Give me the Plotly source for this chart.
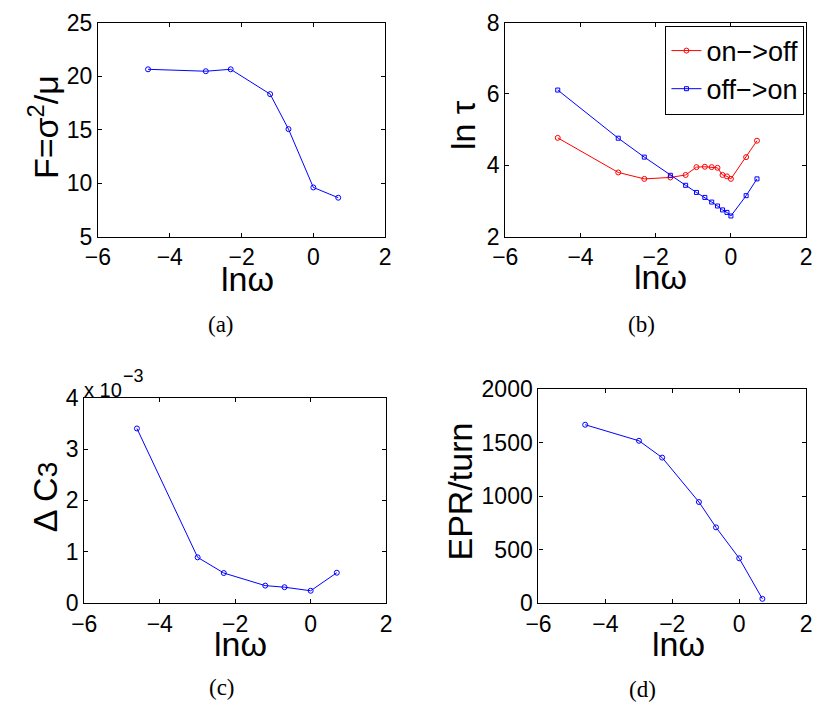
import plotly.graph_objects as go

# ---------------- data ----------------
lnw7 = [-4.605, -2.996, -2.303, -1.204, -0.693, 0.0, 0.693]
fano = [20.64, 20.46, 20.64, 18.32, 15.05, 9.60, 8.64]

lnw14 = [-4.605, -2.996, -2.303, -1.609, -1.204, -0.916, -0.693, -0.511,
         -0.357, -0.223, -0.105, 0.0, 0.405, 0.693]
tau_on_off = [4.77, 3.80, 3.62, 3.66, 3.73, 3.95, 3.96, 3.95, 3.93, 3.73,
              3.69, 3.62, 4.23, 4.69]
tau_off_on = [6.11, 4.76, 4.23, 3.72, 3.44, 3.24, 3.10, 2.97, 2.86, 2.75,
              2.68, 2.58, 3.15, 3.62]

dc3 = [3.40e-3, 0.89e-3, 0.584e-3, 0.339e-3, 0.308e-3, 0.239e-3, 0.59e-3]
epr = [1666, 1516, 1359, 944, 707, 418, 39]

x_ticks = [-6, -4, -2, 0, 2]
ya_ticks = [5, 10, 15, 20, 25]
yb_ticks = [2, 4, 6, 8]
yc_ticks = [0, 1e-3, 2e-3, 3e-3, 4e-3]
yc_text = ["0", "1", "2", "3", "4"]
yd_ticks = [0, 500, 1000, 1500, 2000]

W, H = 817, 724
BLUE = "#0000ff"
RED = "#ff0000"
SANS = "Liberation Sans, Arial, sans-serif"
SERIF = "Liberation Serif, DejaVu Serif, serif"

def px(x):
    return x / W

def py(y):
    return 1 - y / H

fig = go.Figure()

fig.add_trace(go.Scatter(x=lnw7, y=fano, mode="lines+markers", xaxis="x", yaxis="y",
                         line=dict(color=BLUE, width=1),
                         marker=dict(symbol="circle-open", size=5, color=BLUE, line=dict(width=1)),
                         showlegend=False))
fig.add_trace(go.Scatter(x=lnw14, y=tau_on_off, mode="lines+markers", xaxis="x2", yaxis="y2",
                         name="on\u2212>off",
                         line=dict(color=RED, width=1),
                         marker=dict(symbol="circle-open", size=5, color=RED, line=dict(width=1))))
fig.add_trace(go.Scatter(x=lnw14, y=tau_off_on, mode="lines+markers", xaxis="x2", yaxis="y2",
                         name="off\u2212>on",
                         line=dict(color=BLUE, width=1),
                         marker=dict(symbol="square-open", size=4, color=BLUE, line=dict(width=1))))
fig.add_trace(go.Scatter(x=lnw7, y=dc3, mode="lines+markers", xaxis="x3", yaxis="y3",
                         line=dict(color=BLUE, width=1),
                         marker=dict(symbol="circle-open", size=5, color=BLUE, line=dict(width=1)),
                         showlegend=False))
fig.add_trace(go.Scatter(x=lnw7, y=epr, mode="lines+markers", xaxis="x4", yaxis="y4",
                         line=dict(color=BLUE, width=1),
                         marker=dict(symbol="circle-open", size=5, color=BLUE, line=dict(width=1)),
                         showlegend=False))

TICKFONT = dict(family=SANS, size=23, color="black")

def xax(dom, anchor):
    return dict(domain=dom, anchor=anchor, range=[-6, 2], tickvals=x_ticks,
                ticks="inside", ticklen=4, tickwidth=1, tickcolor="black",
                showline=True, linecolor="black", linewidth=1.3, mirror="allticks",
                showgrid=False, zeroline=False, tickfont=TICKFONT)

def yax(dom, anchor, rng, tv, tt=None):
    d = dict(domain=dom, anchor=anchor, range=rng, tickvals=tv,
             ticks="inside", ticklen=4, tickwidth=1, tickcolor="black",
             showline=True, linecolor="black", linewidth=1.3, mirror="allticks",
             showgrid=False, zeroline=False, tickfont=TICKFONT)
    if tt is not None:
        d["ticktext"] = tt
    return d

# panel boxes (pixels)
A = (87, 381, 10, 232)
B = (504, 812, 10, 232)
C = (73, 382, 399, 612)
D = (538, 812, 390, 612)

def dx(b):
    return [px(b[0]), px(b[1])]

def dy(b):
    return [py(b[3]), py(b[2])]

fig.update_layout(
    width=W, height=H,
    margin=dict(l=0, r=0, t=0, b=0),
    paper_bgcolor="white", plot_bgcolor="white",
    xaxis=xax(dx(A), "y"), yaxis=yax(dy(A), "x", [5, 25], ya_ticks),
    xaxis2=xax(dx(B), "y2"), yaxis2=yax(dy(B), "x2", [2, 8], yb_ticks),
    xaxis3=xax(dx(C), "y3"), yaxis3=yax(dy(C), "x3", [0, 4e-3], yc_ticks, yc_text),
    xaxis4=xax(dx(D), "y4"), yaxis4=yax(dy(D), "x4", [0, 2000], yd_ticks),
    legend=dict(x=px(668), y=py(13), xanchor="left", yanchor="top",
                bordercolor="black", borderwidth=1, bgcolor="white",
                font=dict(family=SANS, size=27, color="black"),
                itemwidth=30, tracegroupgap=0),
)

LABEL = dict(family=SANS, size=34, color="black")
CAP = dict(family=SERIF, size=23, color="black")

annots = [
    # x titles
    dict(text="ln\u03c9", x=px(240), y=py(276), font=LABEL),
    dict(text="ln\u03c9", x=px(663), y=py(274), font=LABEL),
    dict(text="ln\u03c9", x=px(233), y=py(654), font=LABEL),
    dict(text="ln\u03c9", x=px(681), y=py(654), font=LABEL),
    # y titles
    dict(text="F=\u03c3<sup>2</sup>/\u03bc", x=px(31), y=py(118), font=LABEL, textangle=-90),
    dict(text="ln \u03c4", x=px(461), y=py(116), font=LABEL, textangle=-90),
    dict(text="\u0394 C<span style='font-size:28px'>3</span>", x=px(33), y=py(502), font=LABEL, textangle=-90),
    dict(text="EPR/turn", x=px(458), y=py(496), font=LABEL, textangle=-90),
    # exponent
    dict(text="x 10", x=px(71), y=py(391), xanchor="left",
         font=dict(family=SANS, size=20, color="black")),
    dict(text="\u22123", x=px(111), y=py(377), xanchor="left",
         font=dict(family=SANS, size=18, color="black")),
    # captions
    dict(text="(a)", x=px(213), y=py(323), font=CAP),
    dict(text="(b)", x=px(643), y=py(323), font=CAP),
    dict(text="(c)", x=px(214), y=py(700), font=CAP),
    dict(text="(d)", x=px(644), y=py(702), font=CAP),
]
for a in annots:
    a.setdefault("xanchor", "center")
    a.setdefault("yanchor", "middle")
    fig.add_annotation(xref="paper", yref="paper", showarrow=False, **a)

fig.write_html("out.html")
